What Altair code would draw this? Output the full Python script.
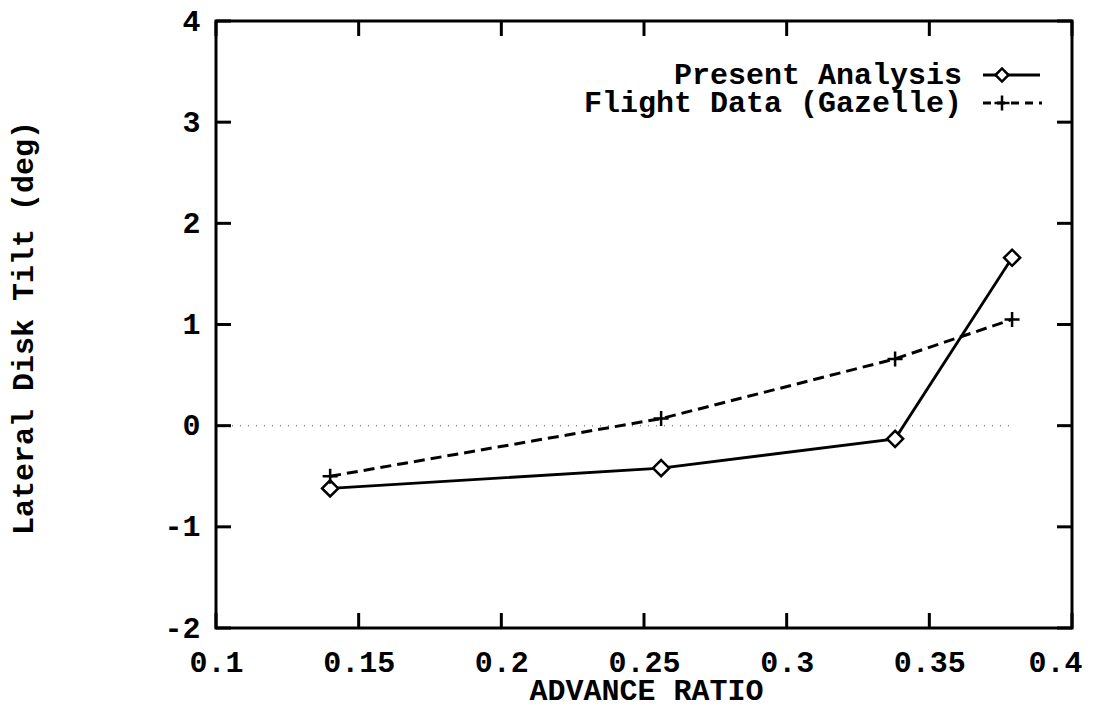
import altair as alt
import pandas as pd

# ---- data ----
advance_ratio = [0.14, 0.256, 0.338, 0.379]
present_analysis = [-0.62, -0.42, -0.13, 1.66]
flight_data = [-0.50, 0.07, 0.66, 1.05]

x_ticks = [0.1, 0.15, 0.2, 0.25, 0.3, 0.35, 0.4]
y_ticks = [-2, -1, 0, 1, 2, 3, 4]
zero_line_x = [0.1, 0.38]

legend_labels = ["Present Analysis", "Flight Data (Gazelle)"]

FONT = "Liberation Mono"
FS = 30
W, H = 856, 607
TICK = 15

df_pa = pd.DataFrame({"x": advance_ratio, "y": present_analysis})
df_fd = pd.DataFrame({"x": advance_ratio, "y": flight_data})
df_xt = pd.DataFrame({"x": x_ticks})
df_yt = pd.DataFrame({"y": y_ticks})
df_zero = pd.DataFrame({"x": [zero_line_x[0]], "x2": [zero_line_x[1]], "y": [0]})

xscale = alt.Scale(domain=[0.1, 0.4], nice=False, zero=False)
yscale = alt.Scale(domain=[-2, 4], nice=False, zero=False)

x_axis = alt.Axis(
    values=x_ticks, ticks=False, domain=False, grid=False,
    labelExpr="format(datum.value, '~g')",
    labelFont=FONT, labelFontSize=FS, labelFontWeight="bold", labelColor="black",
    labelPadding=19, labelFlush=False,
    labelAlign={"condition": {"test": "datum.value > 0.39", "value": "right"}, "value": "center"},
    labelOffset={"condition": {"test": "datum.value > 0.39", "value": 10}, "value": 0},
    title="ADVANCE RATIO", titleFont=FONT, titleFontSize=FS, titleFontWeight="bold",
    titleColor="black", titleX=W / 2 + 2, titleY=62, titleBaseline="middle", titleAlign="center",
)
y_axis = alt.Axis(
    values=y_ticks, ticks=False, domain=False, grid=False,
    labelExpr="replace(format(datum.value, 'd'), '\u2212', '-')",
    labelFont=FONT, labelFontSize=FS, labelFontWeight="bold", labelColor="black",
    labelPadding=16, labelFlush=False,
    title="Lateral Disk Tilt (deg)", titleFont=FONT, titleFontSize=FS, titleFontWeight="bold",
    titleColor="black", titleX=-193, titleY=H / 2 + 3, titleAngle=270,
    titleAlign="center", titleBaseline="middle",
)

X = alt.X("x:Q", scale=xscale, axis=x_axis)
Y = alt.Y("y:Q", scale=yscale, axis=y_axis)

zero = alt.Chart(df_zero).mark_rule(color="#888888", strokeWidth=1.5, strokeDash=[1, 7]).encode(
    x=X, x2="x2:Q", y=Y
)

pa_line = alt.Chart(df_pa).mark_line(color="black", strokeWidth=2.8).encode(x=X, y=Y)
pa_pts = alt.Chart(df_pa).mark_point(
    shape="diamond", size=260, filled=True, fill="white", stroke="black", strokeWidth=2.5, opacity=1
).encode(x=X, y=Y)

fd_line = alt.Chart(df_fd).mark_line(color="black", strokeWidth=3, strokeDash=[11, 6]).encode(x=X, y=Y)
fd_pts = alt.Chart(df_fd).mark_point(
    shape="M-1,0H1M0,-1V1", size=225, filled=False, stroke="black", strokeWidth=2.5, opacity=1
).encode(x=X, y=Y)

# inward tick marks on all four sides
tick_bottom = alt.Chart(df_xt).mark_rule(color="black", strokeWidth=3).encode(
    x=X, y=alt.value(H - TICK), y2=alt.value(H))
tick_top = alt.Chart(df_xt).mark_rule(color="black", strokeWidth=3).encode(
    x=X, y=alt.value(0), y2=alt.value(TICK))
tick_left = alt.Chart(df_yt).mark_rule(color="black", strokeWidth=3).encode(
    y=Y, x=alt.value(0), x2=alt.value(TICK))
tick_right = alt.Chart(df_yt).mark_rule(color="black", strokeWidth=3).encode(
    y=Y, x=alt.value(W - TICK), x2=alt.value(W))

# manual legend (label on the left, sample on the right)
leg_y = [54, 82]
one = pd.DataFrame({"a": [0]})
leg_text1 = alt.Chart(pd.DataFrame({"t": [legend_labels[0]]})).mark_text(
    font=FONT, fontSize=FS, fontWeight="bold", align="right", baseline="middle", color="black"
).encode(text="t:N", x=alt.value(746), y=alt.value(leg_y[0]))
leg_text2 = alt.Chart(pd.DataFrame({"t": [legend_labels[1]]})).mark_text(
    font=FONT, fontSize=FS, fontWeight="bold", align="right", baseline="middle", color="black"
).encode(text="t:N", x=alt.value(746), y=alt.value(leg_y[1]))
leg_line1 = alt.Chart(one).mark_rule(color="black", strokeWidth=2.8).encode(
    x=alt.value(767), x2=alt.value(824), y=alt.value(leg_y[0]))
leg_pt1 = alt.Chart(one).mark_point(
    shape="diamond", size=170, filled=True, fill="white", stroke="black", strokeWidth=2.5, opacity=1
).encode(x=alt.value(786), y=alt.value(leg_y[0]))
leg_line2 = alt.Chart(one).mark_rule(color="black", strokeWidth=3, strokeDash=[8, 6]).encode(
    x=alt.value(767), x2=alt.value(826), y=alt.value(leg_y[1]))
leg_pt2 = alt.Chart(one).mark_point(
    shape="M-1,0H1M0,-1V1", size=225, filled=False, stroke="black", strokeWidth=2.5, opacity=1
).encode(x=alt.value(786), y=alt.value(leg_y[1]))

chart = alt.layer(
    zero, pa_line, fd_line, pa_pts, fd_pts,
    tick_bottom, tick_top, tick_left, tick_right,
    leg_text1, leg_text2, leg_line1, leg_line2, leg_pt1, leg_pt2,
).properties(
    width=W, height=H,
    padding={"left": 208, "top": 13, "right": 16, "bottom": 76},
    autosize=alt.AutoSizeParams(type="none"),
    background="white",
).configure_view(
    stroke="black", strokeWidth=3
)

chart.save("out.html", embed_options={"renderer": "svg", "actions": False})
